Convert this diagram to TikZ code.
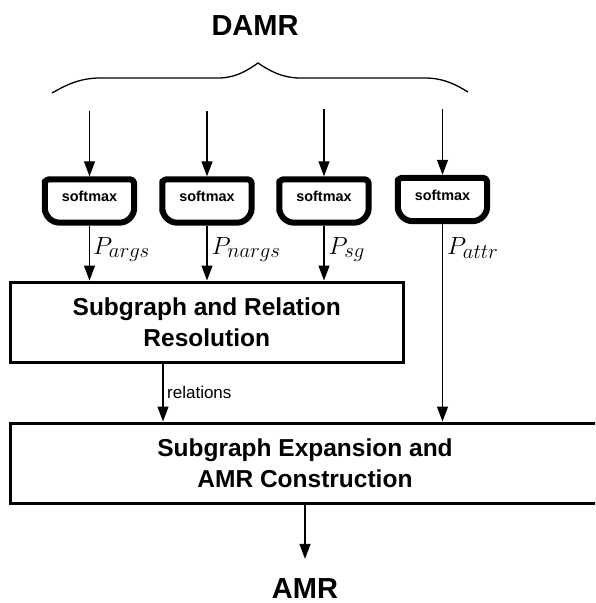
\documentclass[tikz,border=0pt]{standalone}
\usepackage{fontspec}
\setsansfont{Liberation Sans}
\usetikzlibrary{arrows.meta,calc}
\DeclareMathSizes{24}{24}{21.5}{16}

\tikzset{
  arr/.style={line width=1.3pt, -{Triangle[length=15pt,width=11pt]}},
  brace/.style={line width=1.3pt},
  smxnode/.style={draw=none, inner sep=0pt, minimum width=95pt, minimum height=49pt},
  smxline/.style={line width=6pt, line join=round},
  smxtext/.style={inner sep=0pt, font=\sffamily\bfseries\fontsize{14.4}{16}\selectfont},
  stage/.style={draw, line width=3pt, inner sep=0pt, align=center,
    font=\sffamily\bfseries\fontsize{24.5}{31}\selectfont},
  plabel/.style={inner sep=0pt, anchor=base west, font=\fontsize{24}{26}\selectfont},
  title/.style={inner sep=0pt, anchor=base, font=\sffamily\bfseries\fontsize{29}{32}\selectfont},
  small/.style={inner sep=0pt, anchor=west, font=\sffamily\fontsize{17}{19}\selectfont}
}

\begin{document}
\begin{tikzpicture}[x=1pt, y=-1pt]
  \useasboundingbox (0,0) rectangle (595,603);
  \clip (0,0) rectangle (595,603);

  % heading and the brace gathering the four outputs
  \node[title] (damr) at (255,35) {DAMR};
  \draw[brace] (52,93) .. controls (66,85) and (80,78) .. (100,78) -- (218,78)
    .. controls (236,78) and (248,70) .. (258,63)
    .. controls (268,70) and (282,78) .. (300,78) -- (425,78)
    .. controls (445,78) and (458,86) .. (468,92);

  % the four softmax layers
  \foreach \n/\x/\t/\s in {1/89.5/176.5/111, 2/207/176.5/111, 3/324/176.5/109, 4/442.5/175/109} {
    \node[smxnode] (s\n) at (\x,\t+24.5) {};
    \draw[smxline]
      ([shift={(3pt,-20pt)}]s\n.north west) [rounded corners=4pt]
      -- ([shift={(3pt,-3pt)}]s\n.north west)
      -- ([shift={(-3pt,-3pt)}]s\n.north east)
      -- ([shift={(-3pt,-20pt)}]s\n.north east) [rounded corners=15pt]
      -- ([shift={(-3pt,3pt)}]s\n.south east)
      -- ([shift={(3pt,3pt)}]s\n.south west)
      -- ([shift={(3pt,-20pt)}]s\n.north west) -- cycle;
    \node[smxtext] (l\n) at ([yshift=4.5pt]s\n.center) {softmax};
    \coordinate (t\n) at (\x,\s);
    \draw[arr] (t\n) -- (s\n.north);
  }

  % processing stages
  \node[stage, minimum width=392.5pt, minimum height=80pt] (b1) at (206.75,322)
    {Subgraph and Relation\\Resolution};
  \node[stage, minimum width=589pt, minimum height=80pt] (b2) at (305,463)
    {Subgraph Expansion and\\AMR Construction};

  % probability distributions
  \draw[arr] (s1.south) -- (s1.south |- b1.north);
  \draw[arr] (s2.south) -- (s2.south |- b1.north);
  \draw[arr] (s3.south) -- (s3.south |- b1.north);
  \draw[arr] (s4.south) -- (s4.south |- b2.north);
  \node[plabel] (p1) at (93,254) {$P_{args}$};
  \node[plabel] (p2) at (211.5,254) {$P_{nargs}$};
  \node[plabel] (p3) at (328.5,254) {$P_{sg}$};
  \node[plabel] (p4) at (447,254) {$P_{attr}$};

  % relations passed on
  \coordinate (rel) at ([xshift=-43.75pt]b1.south);
  \draw[arr] (rel) -- (rel |- b2.north);
  \node[small] (reltext) at (167,392) {relations};

  % final output
  \node[title] (amr) at (305,598) {AMR};
  \draw[arr, shorten >=19pt] (b2.south) -- (amr.north);
\end{tikzpicture}
\end{document}
